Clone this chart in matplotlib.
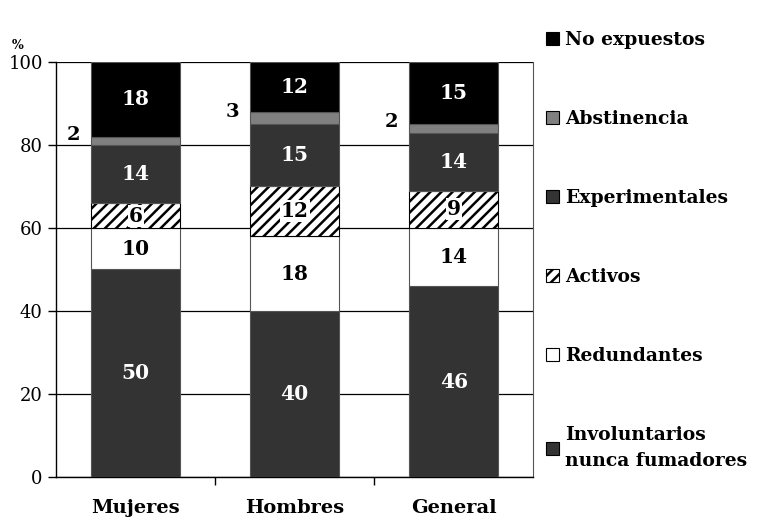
import numpy as np
import matplotlib.pyplot as plt
from matplotlib.patches import Patch

plt.rcParams['font.family'] = ['DejaVu Serif']
plt.rcParams['hatch.linewidth'] = 1.8

# datos (%)
grupos = ['Mujeres', 'Hombres', 'General']
involuntarios = [50, 40, 46]
redundantes = [10, 18, 14]
activos = [6, 12, 9]
experimentales = [14, 15, 14]
abstinencia = [2, 3, 2]
no_expuestos = [18, 12, 15]

series = [
    ('Involuntarios\nnunca fumadores', involuntarios, '#333333', '', 'white'),
    ('Redundantes', redundantes, 'white', '', 'black'),
    ('Activos', activos, 'white', '///', 'black'),
    ('Experimentales', experimentales, '#333333', '', 'white'),
    ('Abstinencia', abstinencia, '#808080', '', None),
    ('No expuestos', no_expuestos, 'black', '', 'white'),
]

fig = plt.figure(figsize=(7.75, 5.2), dpi=100)
ax = fig.add_axes([0.0723, 0.0827, 0.6158, 0.7981])

x = np.arange(len(grupos))
ancho = 0.56
base = np.zeros(len(grupos))
for nombre, vals, color, hatch, tcol in series:
    vals = np.array(vals, dtype=float)
    ax.bar(x, vals, ancho, bottom=base, color=color, hatch=hatch,
           edgecolor='black' if hatch else '#555555', linewidth=0.8, zorder=3)
    for i, v in enumerate(vals):
        yc = base[i] + v / 2
        if tcol is None:
            ax.text(x[i] - ancho / 2 - 0.11, yc + 1.5, f'{v:.0f}', ha='center', va='center',
                    fontsize=14, fontweight='bold', color='black', zorder=4)
        elif hatch:
            ax.text(x[i], yc, f'{v:.0f}', ha='center', va='center', fontsize=14.5,
                    fontweight='bold', color=tcol, zorder=4,
                    bbox=dict(boxstyle='square,pad=0.05', fc='white', ec='none'))
        else:
            ax.text(x[i], yc, f'{v:.0f}', ha='center', va='center', fontsize=14.5,
                    fontweight='bold', color=tcol, zorder=4)
    base += vals

ax.set_xlim(-0.5, 2.5)
ax.set_ylim(0, 100)
ax.set_yticks(np.arange(0, 101, 20))
ax.yaxis.grid(True, color='black', linewidth=0.9, zorder=0)
ax.set_xticks(x)
ax.set_xticklabels(grupos, fontsize=14, fontweight='bold')
ax.tick_params(axis='x', length=0, pad=16)
ax.set_xticks([0.5, 1.5], minor=True)
ax.tick_params(axis='x', which='minor', length=6, width=1, direction='out')
ax.tick_params(axis='y', length=6, width=1, direction='out', labelsize=13)
for s in ['left', 'bottom']:
    ax.spines[s].set_linewidth(1)
ax.spines['top'].set_visible(False)
ax.spines['right'].set_linewidth(0.8)
ax.spines['right'].set_color('#555555')

fig.text(0.015, 0.905, '%', fontsize=9, fontweight='bold')

handles = [Patch(facecolor=c, hatch=h, edgecolor='black', linewidth=0.8, label=n)
           for n, v, c, h, t in series[::-1]]
leg = fig.legend(handles=handles, loc='upper left', bbox_to_anchor=(0.695, 0.955),
                 frameon=False, prop={'weight': 'bold', 'size': 13.5},
                 handlelength=0.7, handleheight=0.7, handletextpad=0.3,
                 labelspacing=3.25, borderaxespad=0)
for t in leg.get_texts():
    t.set_linespacing(1.6)

fig.savefig('out.png', dpi=100)
